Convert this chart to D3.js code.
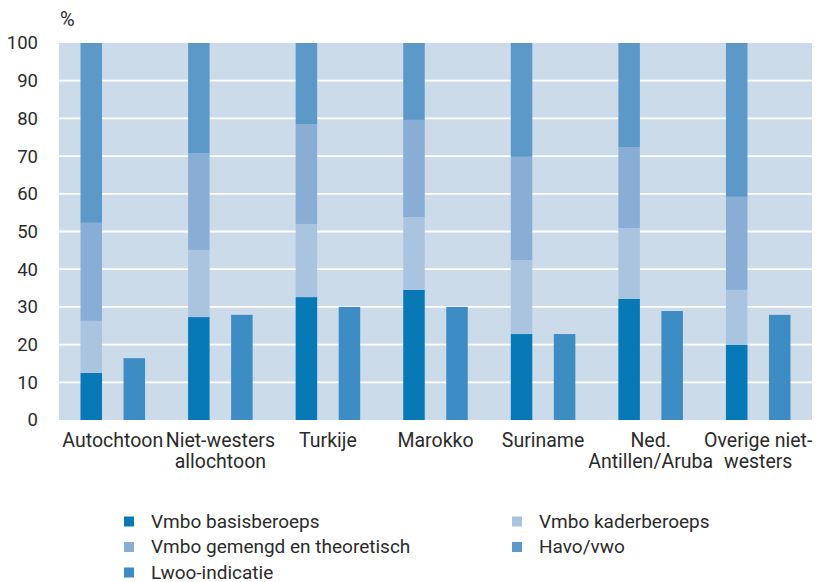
<!DOCTYPE html>
<html>
<head>
<meta charset="utf-8">
<script src="https://cdn.jsdelivr.net/npm/d3@7"></script>
<style>
  html, body { margin: 0; padding: 0; background: #ffffff; }
  svg { display: block; font-family: Roboto, "Liberation Sans", sans-serif; }
</style>
</head>
<body>
<svg id="chart" width="827" height="582"></svg>
<script>
// ---- Data ----
const categories = ["Autochtoon", "Niet-westers allochtoon", "Turkije", "Marokko", "Suriname", "Ned. Antillen/Aruba", "Overige niet-westers"];
const categoryLines = [["Autochtoon"], ["Niet-westers", "allochtoon"], ["Turkije"], ["Marokko"], ["Suriname"], ["Ned.", "Antillen/Aruba"], ["Overige niet-", "westers"]];
const vmboBasis     = [12.5, 27.3, 32.6, 34.5, 22.8, 32.1, 19.9];
const vmboKader     = [13.8, 17.8, 19.4, 19.3, 19.6, 18.8, 14.6];
const vmboGemengd   = [26.0, 25.7, 26.5, 25.8, 27.4, 21.5, 24.7];
const havoVwo       = [47.7, 29.2, 21.5, 20.4, 30.2, 27.6, 40.8];
const lwooIndicatie = [16.4, 27.9, 30.0, 30.0, 22.8, 28.9, 27.9];
const yTicks = [0, 10, 20, 30, 40, 50, 60, 70, 80, 90, 100];
const seriesNames = ["Vmbo basisberoeps", "Vmbo kaderberoeps", "Vmbo gemengd en theoretisch", "Havo/vwo", "Lwoo-indicatie"];
const seriesColors = ["#0879b7", "#aac4e0", "#89aed6", "#5c99c9", "#3d8cc4"];

// ---- Layout ----
const svg = d3.select("#chart");
const plotL = 59, plotR = 812, plotT = 43, plotB = 420;
const textColor = "#2b2b2b";

const x = d3.scaleBand().domain(categories).range([plotL, plotR]).paddingInner(0).paddingOuter(0);
const slot = d3.scaleBand().domain(["a", "stack", "b", "lwoo", "c"]).range([0, x.bandwidth()]);
const y = d3.scaleLinear().domain([0, 100]).range([plotB, plotT]);
const color = d3.scaleOrdinal().domain(seriesNames).range(seriesColors);

// background
svg.append("rect").attr("x", plotL).attr("y", plotT)
  .attr("width", plotR - plotL).attr("height", plotB - plotT).attr("fill", "#ccdbea");

// gridlines
svg.append("g").selectAll("line").data(yTicks.filter(t => t > 0 && t < 100)).join("line")
  .attr("x1", plotL).attr("x2", plotR)
  .attr("y1", d => y(d)).attr("y2", d => y(d))
  .attr("stroke", "#ffffff").attr("stroke-width", 1.8);

// stacked bars
const table = categories.map((c, i) => ({
  cat: c,
  "Vmbo basisberoeps": vmboBasis[i],
  "Vmbo kaderberoeps": vmboKader[i],
  "Vmbo gemengd en theoretisch": vmboGemengd[i],
  "Havo/vwo": havoVwo[i]
}));
const stackKeys = seriesNames.slice(0, 4);
const stacked = d3.stack().keys(stackKeys)(table);

svg.append("g").selectAll("g").data(stacked).join("g")
  .attr("fill", d => color(d.key))
  .selectAll("rect").data(d => d).join("rect")
  .attr("x", d => x(d.data.cat) + slot("stack"))
  .attr("width", slot.bandwidth())
  .attr("y", d => y(d[1]))
  .attr("height", d => y(d[0]) - y(d[1]));

// Lwoo bars
svg.append("g").selectAll("rect").data(categories).join("rect")
  .attr("fill", color("Lwoo-indicatie"))
  .attr("x", (d) => x(d) + slot("lwoo"))
  .attr("width", slot.bandwidth())
  .attr("y", (d, i) => y(lwooIndicatie[i]))
  .attr("height", (d, i) => y(0) - y(lwooIndicatie[i]));

// y axis labels
const yAxis = d3.axisLeft(y).tickValues(yTicks).tickSize(0).tickPadding(21);
const yg = svg.append("g").attr("transform", `translate(${plotL},0)`).call(yAxis);
yg.select(".domain").remove();
yg.selectAll("text").attr("font-size", 18.5).attr("fill", textColor).attr("font-family", "Roboto, sans-serif");

// % label
svg.append("text").attr("x", 60).attr("y", 26).attr("font-size", 20)
  .attr("fill", textColor).text("%");

// category labels (one text per line)
const xl = svg.append("g");
categories.forEach((c, i) => {
  categoryLines[i].forEach((ln, j) => {
    xl.append("text")
      .attr("x", x(c) + x.bandwidth() / 2)
      .attr("y", 447 + j * 21)
      .attr("text-anchor", "middle")
      .attr("font-size", 19.5)
      .attr("fill", textColor)
      .text(ln);
  });
});

// legend
const legend = svg.append("g");
seriesNames.forEach((name, i) => {
  const col = i % 2, row = Math.floor(i / 2);
  const lx = col === 0 ? 124 : 512;
  const base = 527.5 + row * 25.5;
  legend.append("rect").attr("x", lx).attr("y", base - 11).attr("width", 10).attr("height", 10)
    .attr("fill", color(name));
  legend.append("text").attr("x", lx + 27).attr("y", base)
    .attr("font-size", 19).attr("fill", textColor).text(name);
});
</script>
</body>
</html>
